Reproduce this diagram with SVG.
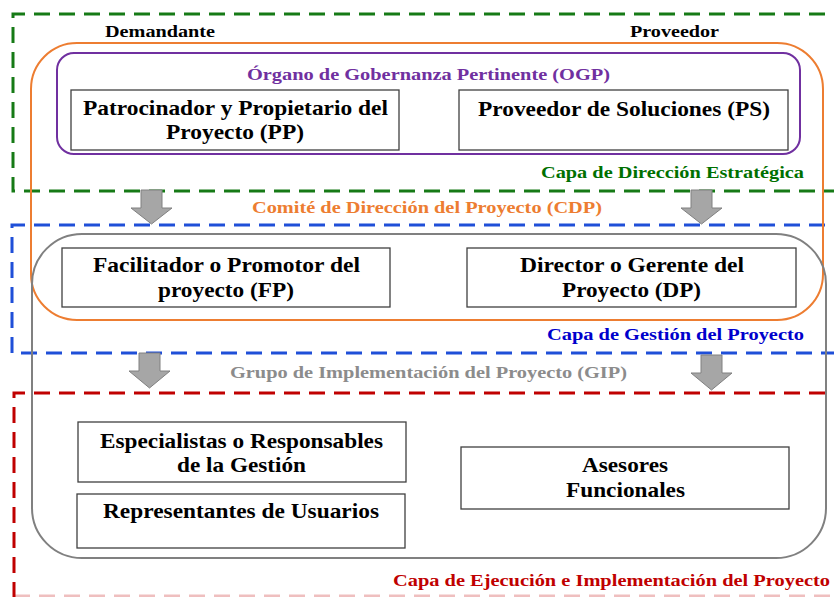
<svg xmlns="http://www.w3.org/2000/svg" width="834" height="597" viewBox="0 0 834 597">
<rect width="834" height="597" fill="#fff"/>
<g id="layers" fill="none" stroke-width="3" stroke-dasharray="16 9">
<path stroke="#167a16" d="M850 14 H13 V191 H850"/>
<path stroke="#1f4fd8" d="M850 225 H12 V353 H850"/>
<path stroke="#c00000" d="M850 393 H14 V597"/>
<path stroke="#c00000" stroke-opacity="0.25" d="M14 596 H850"/>
</g>
<g id="cdp">
<rect x="31" y="43" width="792" height="277" rx="46" fill="none" stroke="#ed7d31" stroke-width="2"/>
<text x="252" y="213" font-family="Liberation Serif" font-weight="bold" font-size="16.5" fill="#ed7d31" textLength="350" lengthAdjust="spacingAndGlyphs">Comité de Dirección del Proyecto (CDP)</text>
</g>
<g id="gip">
<rect x="32" y="234" width="794" height="324" rx="50" fill="none" stroke="#808080" stroke-width="2"/>
<text x="230" y="378" font-family="Liberation Serif" font-weight="bold" font-size="16.5" fill="#8c8c8c" textLength="397" lengthAdjust="spacingAndGlyphs">Grupo de Implementación del Proyecto (GIP)</text>
</g>
<g id="ogp">
<rect x="57" y="53" width="743" height="101" rx="17" fill="none" stroke="#7030a0" stroke-width="2"/>
<text x="247" y="80" font-family="Liberation Serif" font-weight="bold" font-size="16.5" fill="#7030a0" textLength="363" lengthAdjust="spacingAndGlyphs">Órgano de Gobernanza Pertinente (OGP)</text>
</g>
<g id="side-labels">
<text x="105" y="37" font-family="Liberation Serif" font-weight="bold" font-size="16.5" fill="#000" textLength="110" lengthAdjust="spacingAndGlyphs">Demandante</text>
<text x="630" y="37" font-family="Liberation Serif" font-weight="bold" font-size="16.5" fill="#000" textLength="89" lengthAdjust="spacingAndGlyphs">Proveedor</text>
<text x="541" y="178" font-family="Liberation Serif" font-weight="bold" font-size="16.5" fill="#007000" textLength="263" lengthAdjust="spacingAndGlyphs">Capa de Dirección Estratégica</text>
<text x="547" y="340" font-family="Liberation Serif" font-weight="bold" font-size="16.5" fill="#0000cc" textLength="257" lengthAdjust="spacingAndGlyphs">Capa de Gestión del Proyecto</text>
<text x="393" y="586" font-family="Liberation Serif" font-weight="bold" font-size="16.5" fill="#c00000" textLength="437" lengthAdjust="spacingAndGlyphs">Capa de Ejecución e Implementación del Proyecto</text>
</g>
<g id="pp">
<rect x="71" y="90" width="328" height="60" fill="#fff" stroke="#404040" stroke-width="1.3"/>
<text x="83" y="115" font-family="Liberation Serif" font-weight="bold" font-size="21" textLength="305" lengthAdjust="spacingAndGlyphs">Patrocinador y Propietario del</text>
<text x="166" y="139" font-family="Liberation Serif" font-weight="bold" font-size="21" textLength="138" lengthAdjust="spacingAndGlyphs">Proyecto (PP)</text>
</g>
<g id="ps">
<rect x="459" y="90" width="329" height="60" fill="#fff" stroke="#404040" stroke-width="1.3"/>
<text x="478" y="116" font-family="Liberation Serif" font-weight="bold" font-size="21" textLength="292" lengthAdjust="spacingAndGlyphs">Proveedor de Soluciones (PS)</text>
</g>
<g id="fp">
<rect x="62" y="248" width="328" height="59" fill="#fff" stroke="#404040" stroke-width="1.3"/>
<text x="93" y="272" font-family="Liberation Serif" font-weight="bold" font-size="21" textLength="267" lengthAdjust="spacingAndGlyphs">Facilitador o Promotor del</text>
<text x="158" y="297" font-family="Liberation Serif" font-weight="bold" font-size="21" textLength="136" lengthAdjust="spacingAndGlyphs">proyecto (FP)</text>
</g>
<g id="dp">
<rect x="467" y="248" width="329" height="59" fill="#fff" stroke="#404040" stroke-width="1.3"/>
<text x="520" y="272" font-family="Liberation Serif" font-weight="bold" font-size="21" textLength="224" lengthAdjust="spacingAndGlyphs">Director o Gerente del</text>
<text x="562" y="297" font-family="Liberation Serif" font-weight="bold" font-size="21" textLength="139" lengthAdjust="spacingAndGlyphs">Proyecto (DP)</text>
</g>
<g id="esp">
<rect x="78" y="422" width="328" height="60" fill="#fff" stroke="#404040" stroke-width="1.3"/>
<text x="100" y="448" font-family="Liberation Serif" font-weight="bold" font-size="21" textLength="283" lengthAdjust="spacingAndGlyphs">Especialistas o Responsables</text>
<text x="177" y="472" font-family="Liberation Serif" font-weight="bold" font-size="21" textLength="129" lengthAdjust="spacingAndGlyphs">de la Gestión</text>
</g>
<g id="rep">
<rect x="77" y="494" width="328" height="54" fill="#fff" stroke="#404040" stroke-width="1.3"/>
<text x="103" y="518" font-family="Liberation Serif" font-weight="bold" font-size="21" textLength="276" lengthAdjust="spacingAndGlyphs">Representantes de Usuarios</text>
</g>
<g id="ase">
<rect x="461" y="447" width="328" height="62" fill="#fff" stroke="#404040" stroke-width="1.3"/>
<text x="582" y="472" font-family="Liberation Serif" font-weight="bold" font-size="21" textLength="86" lengthAdjust="spacingAndGlyphs">Asesores</text>
<text x="566" y="497" font-family="Liberation Serif" font-weight="bold" font-size="21" textLength="119" lengthAdjust="spacingAndGlyphs">Funcionales</text>
</g>
<g id="connectors" fill="#a6a6a6" stroke="#808080" stroke-width="1">
<path d="M141 190 H162 V208 H172 L151.5 224 L131 208 H141 Z"/>
<path d="M691 190 H712 V208 H722 L701.5 224 L681 208 H691 Z"/>
<path d="M139 353 H160 V371 H170 L149.5 388 L129 371 H139 Z"/>
<path d="M701 355 H722 V373 H732 L711.5 390 L691 373 H701 Z"/>
</g>
</svg>
